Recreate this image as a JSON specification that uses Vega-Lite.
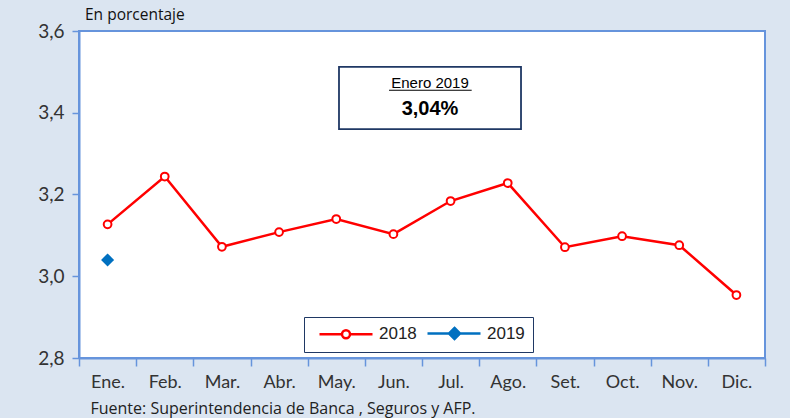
{
  "$schema": "https://vega.github.io/schema/vega-lite/v6.json",
  "width": 686,
  "height": 327,
  "autosize": {"type": "none"},
  "padding": {"left": 79, "top": 31, "right": 25, "bottom": 60},
  "background": "#dbe5f1",
  "title": {"text": "En porcentaje", "anchor": "start", "frame": "group", "offset": -1, "dx": 6, "fontSize": 15.5, "font": "Open Sans", "fontWeight": "normal", "color": "#111111"},
  "config": {
    "view": {"stroke": "#6694dc", "strokeWidth": 2, "fill": "white"},
    "axis": {"grid": false}
  },
  "datasets": {
    "main": [
      {"mes": "Ene.", "serie": "2018", "valor": 3.127},
      {"mes": "Feb.", "serie": "2018", "valor": 3.244},
      {"mes": "Mar.", "serie": "2018", "valor": 3.072},
      {"mes": "Abr.", "serie": "2018", "valor": 3.108},
      {"mes": "May.", "serie": "2018", "valor": 3.140},
      {"mes": "Jun.", "serie": "2018", "valor": 3.103},
      {"mes": "Jul.", "serie": "2018", "valor": 3.184},
      {"mes": "Ago.", "serie": "2018", "valor": 3.228},
      {"mes": "Set.", "serie": "2018", "valor": 3.071},
      {"mes": "Oct.", "serie": "2018", "valor": 3.098},
      {"mes": "Nov.", "serie": "2018", "valor": 3.076},
      {"mes": "Dic.", "serie": "2018", "valor": 2.954},
      {"mes": "Ene.", "serie": "2019", "valor": 3.040}
    ],
    "box": [
      {"x1": 4.548, "x2": 7.732, "y1": 3.512, "y2": 3.360}
    ],
    "underline": [
      {"x1": 5.423, "x2": 6.869, "y": 3.455}
    ],
    "texts": [
      {"x": 6.14, "y": 3.473, "label": "Enero 2019", "kind": "head"},
      {"x": 6.14, "y": 3.409, "label": "3,04%", "kind": "value"}
    ]
  },
  "layer": [
    {
      "data": {"name": "main"},
      "encoding": {
        "x": {
          "field": "mes", "type": "nominal", "bandPosition": 0.5,
          "sort": ["Ene.", "Feb.", "Mar.", "Abr.", "May.", "Jun.", "Jul.", "Ago.", "Set.", "Oct.", "Nov.", "Dic."],
          "scale": {"type": "band", "paddingInner": 0, "paddingOuter": 0},
          "axis": {
            "labelAngle": 0, "labelFont": "Lato", "labelFontSize": 18, "labelColor": "#333333",
            "labelPadding": 7, "tickBand": "extent", "tickColor": "#6694dc", "tickSize": 8, "tickWidth": 1.5,
            "domainColor": "#6694dc", "domainWidth": 2,
            "title": "Fuente: Superintendencia de Banca , Seguros y AFP.",
            "titleFont": "Open Sans", "titleFontSize": 16, "titleFontWeight": "normal", "titleColor": "#222222",
            "titleX": 11, "titleY": 50, "titleAlign": "left", "titleBaseline": "middle", "titleAnchor": "start"
          }
        },
        "y": {
          "field": "valor", "type": "quantitative",
          "scale": {"domain": [2.8, 3.6], "nice": false, "zero": false},
          "axis": {
            "values": [2.8, 3.0, 3.2, 3.4, 3.6],
            "labelExpr": "replace(format(datum.value, '.1f'), '.', ',')",
            "labelFont": "Lato", "labelFontSize": 19, "labelColor": "#333333", "labelPadding": 8,
            "tickColor": "#6694dc", "tickSize": 7, "tickWidth": 1.5,
            "domainColor": "#6694dc", "domainWidth": 2, "title": null
          }
        }
      },
      "layer": [
        {
          "mark": {"type": "line", "strokeWidth": 2.5},
          "encoding": {
            "color": {
              "field": "serie", "type": "nominal",
              "scale": {"domain": ["2018", "2019"], "range": ["#ff0000", "#0070c0"]},
              "legend": {
                "orient": "none", "legendX": 225, "legendY": 286, "direction": "horizontal",
                "title": null, "fillColor": "white", "strokeColor": "#1f3864", "padding": 8,
                "labelFont": "Liberation Sans", "labelFontSize": 17, "labelColor": "#222222",
                "symbolSize": 100, "symbolStrokeWidth": 2.5, "labelOffset": 50, "columnPadding": 3,
                "encode": {
                  "symbols": {
                    "update": {
                      "shape": {"signal": "datum.value === '2018' ? 'M-0.2,0H4.3M5.9,0H10.4M4.3,0A0.8,0.8 0 1,1 5.9,0A0.8,0.8 0 1,1 4.3,0Z' : 'M-0.2,0H10.4M5.2,-1.1L6.3,0L5.2,1.1L4.1,0Z'"},
                      "fill": {"signal": "datum.value === '2018' ? '#ffffff' : '#0070c0'"},
                      "fillOpacity": {"value": 1}
                    }
                  }
                }
              }
            }
          }
        },
        {
          "transform": [{"filter": "datum.serie === '2018'"}],
          "mark": {"type": "point", "shape": "circle", "filled": true, "fill": "white", "stroke": "#ff0000", "strokeWidth": 2, "size": 60, "opacity": 1}
        },
        {
          "transform": [{"filter": "datum.serie === '2019'"}],
          "mark": {"type": "point", "shape": "diamond", "filled": true, "color": "#0070c0", "size": 170, "opacity": 1}
        }
      ]
    },
    {
      "layer": [
        {
          "data": {"name": "box"},
          "mark": {"type": "rect", "fill": "white", "stroke": "#1f3864", "strokeWidth": 1.8},
          "encoding": {
            "x": {"field": "x1", "type": "quantitative", "scale": {"domain": [0, 12], "nice": false, "zero": false}, "axis": null},
            "x2": {"field": "x2"},
            "y": {"field": "y1", "type": "quantitative"},
            "y2": {"field": "y2"}
          }
        },
        {
          "data": {"name": "underline"},
          "mark": {"type": "rule", "color": "#000000", "strokeWidth": 1.2},
          "encoding": {
            "x": {"field": "x1", "type": "quantitative", "scale": {"domain": [0, 12], "nice": false, "zero": false}, "axis": null},
            "x2": {"field": "x2"},
            "y": {"field": "y", "type": "quantitative"}
          }
        },
        {
          "data": {"name": "texts"},
          "transform": [{"filter": "datum.kind === 'head'"}],
          "mark": {"type": "text", "font": "Liberation Sans", "fontSize": 15, "color": "#000000", "baseline": "middle", "align": "center"},
          "encoding": {
            "x": {"field": "x", "type": "quantitative", "scale": {"domain": [0, 12], "nice": false, "zero": false}, "axis": null},
            "y": {"field": "y", "type": "quantitative"},
            "text": {"field": "label"}
          }
        },
        {
          "data": {"name": "texts"},
          "transform": [{"filter": "datum.kind === 'value'"}],
          "mark": {"type": "text", "font": "Liberation Sans", "fontSize": 20, "fontWeight": "bold", "color": "#000000", "baseline": "middle", "align": "center"},
          "encoding": {
            "x": {"field": "x", "type": "quantitative", "scale": {"domain": [0, 12], "nice": false, "zero": false}, "axis": null},
            "y": {"field": "y", "type": "quantitative"},
            "text": {"field": "label"}
          }
        }
      ]
    }
  ],
  "resolve": {"scale": {"x": "independent"}, "axis": {"x": "independent"}}
}
